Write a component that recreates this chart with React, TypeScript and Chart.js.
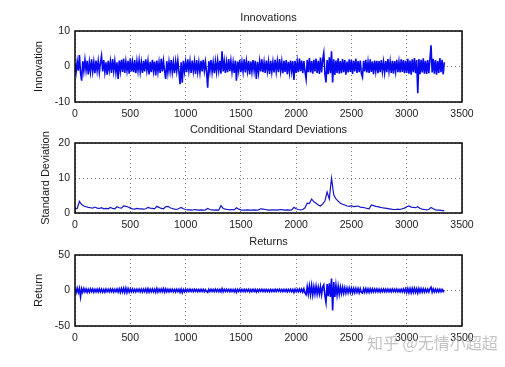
import React, { useEffect, useRef } from 'react';
import { Chart, registerables } from 'chart.js';

Chart.register(...registerables);

// sample spacing of the hand-read (downsampled) series
const STEP = 10;
const STD_STEP = 20;

const innovations = [
  0.8, -1.6, 1.4, -1.2, 3.2, -1.8, -4.0, 1.5, -1.3, 1.9, -1.1, 1.6, -2.2, 1.2, -1.5, 2.0, -1.4, 1.3, -1.9, 1.7,
  -1.2, 1.5, -1.7, 1.1, 3.0, -1.4, 1.8, -1.6, 1.2, -2.3, 1.6, -1.1, 1.4, -1.8, 2.1, -1.3, 1.5, -1.7, 1.2, -3.5,
  1.7, -1.3, 1.9, -1.5, 2.2, -1.8, 1.4, -1.2, 1.6, -2.0, 2.3, -1.4, 1.3, -1.6, 1.8, -1.9, 1.5, -1.2, 1.7, -1.5,
  1.2, -1.8, 1.6, -1.4, 2.0, -1.1, 1.5, -2.2, 1.3, -1.6, 1.9, -1.3, 1.4, -2.5, 1.7, -1.5, 1.2, -1.8, 2.2, -1.4,
  1.6, -1.2, -3.5, 1.5, -1.7, 1.3, -1.4, 1.8, -1.6, 1.2, -1.9, 1.4, -1.3, 1.7, -1.5, -5.0, 1.2, -4.6, 1.6, -1.4,
  1.3, -1.6, 2.0, -1.2, 1.5, -1.8, 1.7, -1.3, 1.4, -2.1, 1.8, -1.5, 1.2, -1.7, 1.6, -1.4, 1.9, -1.2, 1.3, -1.6,
  -6.0, 1.5, -1.3, 1.8, -1.6, 1.2, -1.9, 1.4, -1.5, 1.7, -1.2, 1.6, -2.0, 4.3, -1.4, 1.5, -1.8, 1.3, -1.6, 2.1,
  -1.3, 1.6, -1.5, 1.2, -1.8, 1.7, -4.0, 1.4, -1.2, 1.9, -1.6, 1.3, -1.4, 2.0, -1.7, 1.5, -1.3, 1.6, -2.2, 1.4,
  -1.5, 1.8, -1.2, 1.6, -3.5, 1.3, -1.7, 1.5, -1.4, 2.0, -1.6, 1.2, -1.8, 1.7, -1.3, 1.4, -2.1, 1.6, -1.5, 1.3,
  -1.7, 1.9, -1.4, 1.5, -1.6, 2.1, -1.3, 1.4, -1.9, 1.6, -1.5, 1.8, -2.2, 1.3, -1.6, 1.7, -1.4, 1.5, -3.8, 1.6,
  -1.8, 1.4, -1.6, 2.2, -1.3, 1.7, -1.9, 1.5, -1.4, -3.5, 1.8, -1.6, 2.4, -1.7, 1.5, -2.0, 1.9, -1.4, 2.2, -1.8,
  1.6, -2.1, 2.5, -1.7, 1.9, 3.8, -2.0, -4.5, 1.8, -2.2, 2.6, -1.9, 4.3, -4.5, 2.0, -2.4, 1.7, -1.8, 2.3, -2.0,
  1.5, -1.9, 2.1, -1.6, 1.8, -2.3, 1.4, -1.7, 2.0, -1.5, 1.9, -2.1, 1.6, -1.4, 2.2, -1.8, 1.5, -1.6, 1.7, -2.0,
  -3.0, 1.6, -1.4, 1.9, -1.7, 1.3, -1.8, 2.0, -1.5, 1.4, -2.2, 1.7, -1.3, 1.6, -1.9, 1.5, -1.6, 1.8, -1.4, 1.3,
  -1.7, 1.5, -1.6, 2.1, -1.3, 1.4, -1.8, 1.6, -2.0, 1.5, -1.4, 1.9, -1.6, 1.3, -1.7, 2.0, -1.5, 1.8, -1.9, 1.6,
  -1.8, 2.2, -2.0, 1.7, -2.3, 2.0, -1.6, 2.4, -1.9, 1.8, -7.5, 2.1, -2.2, 1.9, -1.7, 2.3, -2.0, 1.6, -2.1, 1.8,
  -1.9, 2.0, 6.0, -1.7, 2.2, -2.0, 1.8, -2.3, 1.5, -1.8, 2.4, -1.6, 1.9, -2.2, 1.2,
];

const returns = [
  2.5, -3.0, 3.5, -2.8, 3.0, -9.0, 2.6, -2.4, 2.8, -2.0, 2.2, -2.6, 1.8, -2.2, 2.4, -1.9, 2.1, -2.3, 1.7, -2.0,
  1.9, -2.1, 2.3, -1.8, 2.0, -2.2, 1.6, -2.4, 2.1, -1.7, 1.8, -2.0, 2.2, -1.6, 1.9, -2.1, 1.7, -1.8, 2.0, -2.3,
  2.4, -2.6, 2.8, -2.2, 3.2, -2.9, 3.4, -3.0, 2.6, -2.4, 2.0, -1.8, 2.2, -1.9, 1.7, -2.0, 1.8, -1.6, 2.1, -1.9,
  1.8, -2.1, 2.0, -1.7, 2.3, -2.4, 2.6, -2.2, 1.9, -1.8, 2.1, -2.0, 1.7, -2.6, 3.0, -2.1, 1.8, -1.9, 2.2, -1.7,
  2.8, -2.4, 2.2, -1.9, 1.8, -2.0, 1.7, -1.6, 1.9, -1.8, 1.6, -2.0, 1.8, -1.5, 1.7, -2.6, 1.9, -3.0, 1.6, -1.8,
  1.5, -1.7, 1.6, -1.4, 1.8, -1.5, 1.4, -1.6, 1.7, -1.3, 1.5, -1.6, 1.4, -1.5, 1.6, -1.4, 1.5, -1.7, 1.3, -1.5,
  -2.8, 1.6, -1.5, 1.7, -1.4, 1.5, -1.6, 1.8, -1.5, 1.4, -1.7, 1.6, -1.8, 2.6, -1.9, 1.7, -1.5, 1.6, -1.4, 1.5,
  -1.6, 1.7, -1.5, 1.4, -1.8, 1.6, -2.6, 1.5, -1.4, 1.7, -1.6, 1.5, -1.4, 1.6, -1.7, 1.5, -1.3, 1.6, -1.8, 1.4,
  -1.5, 1.6, -1.4, 1.5, -2.2, 1.4, -1.6, 1.5, -1.3, 1.7, -1.5, 1.4, -1.6, 1.5, -1.4, 1.3, -1.7, 1.5, -1.4, 1.3,
  -1.5, 1.6, -1.4, 1.5, -1.3, 1.7, -1.5, 1.4, -1.6, 1.5, -1.4, 1.6, -1.8, 1.5, -1.4, 1.7, -1.6, 1.5, -2.6, 1.8,
  -1.7, 1.6, -1.8, 2.0, -1.6, 1.9, -2.2, 2.4, -3.5, -6.0, 5.5, -5.0, 6.5, -5.8, 7.0, -6.2, 5.5, -4.8, 6.0, -5.2,
  4.5, -4.8, 5.5, -6.0, 5.0, 8.0, -7.0, -17.0, 9.0, -8.0, 10.0, -9.0, 17.0, -28.0, 12.0, -9.0, 7.5, -6.5, 6.0, -5.5,
  4.8, -4.2, 4.5, -3.8, 4.0, -3.6, 3.5, -3.2, 3.6, -3.0, 3.2, -3.4, 2.8, -3.0, 3.1, -2.6, 2.9, -3.0, 2.5, -2.7,
  -3.5, 2.6, -2.4, 2.8, -2.5, 2.2, -2.6, 2.4, -2.1, 2.3, -2.0, 2.2, -1.9, 2.1, -2.0, 1.8, -2.1, 2.0, -1.8, 1.9,
  -1.8, 2.0, -1.7, 1.9, -1.8, 1.7, -1.9, 2.0, -1.6, 1.8, -1.7, 1.9, -1.8, 1.6, -2.0, 1.8, -1.9, 2.2, -2.1, 2.4,
  -2.6, 2.8, -3.0, 2.7, -3.2, 2.9, -2.8, 3.0, -2.6, 2.5, -3.5, 2.8, -2.4, 2.6, -2.3, 2.5, -2.2, 2.1, -2.0, 1.9,
  -2.0, 2.2, 4.5, -2.4, 2.3, -2.1, 2.0, -1.9, 1.8, -2.0, 1.7, -1.8, 1.6, -1.5, 0.8,
];

const stdDeviations = [
  1.2, 1.3, 3.3, 2.4, 2.0, 1.8, 1.6, 1.5, 1.4, 1.7,
  1.4, 1.3, 1.5, 1.2, 1.3, 1.2, 1.6, 1.3, 1.2, 1.8,
  1.5, 1.4, 2.0, 1.9, 1.7, 1.4, 1.2, 1.1, 1.3, 1.2,
  1.2, 1.1, 1.2, 1.6, 1.4, 1.3, 1.2, 1.9, 1.6, 1.3,
  1.2, 1.8, 1.9, 1.5, 1.3, 1.1, 1.0, 1.3, 1.6, 1.2,
  1.0, 0.9, 0.9, 0.8, 1.0, 0.9, 0.8, 0.9, 0.8, 0.9,
  1.3, 1.0, 0.9, 0.8, 0.9, 0.8, 2.1, 1.3, 1.1, 1.0,
  0.9, 1.0, 0.9, 1.5, 1.1, 0.9, 0.8, 0.8, 0.9, 0.8,
  0.8, 0.9, 0.8, 0.9, 1.2, 1.1, 1.0, 0.9, 0.8, 0.9,
  0.9, 0.8, 0.9, 1.0, 0.9, 0.8, 0.9, 0.8, 0.9, 1.6,
  1.2, 1.0, 0.9, 1.0, 1.5, 2.8, 2.7, 4.0, 3.2, 2.8,
  2.3, 2.0, 2.6, 3.4, 6.0, 4.0, 10.0, 5.2, 4.0, 3.4,
  2.8, 2.5, 2.3, 2.0, 1.9, 2.1, 1.8, 1.9, 2.0, 1.7,
  1.6, 1.5, 1.3, 1.2, 2.3, 2.1, 1.9, 1.8, 1.6, 1.5,
  1.4, 1.3, 1.2, 1.1, 1.0, 1.0, 1.1, 1.0, 1.2, 1.4,
  1.8, 2.0, 1.7, 1.6, 1.5, 1.8, 1.3, 1.1, 1.0, 0.9,
  1.0, 1.6, 1.2, 0.9, 0.8, 0.8, 0.7, 0.7,
];

const sampleIndex = innovations.map((_, i) => i * STEP);
const stdIndex = stdDeviations.map((_, i) => i * STD_STEP);

const xTickValues = [0, 500, 1000, 1500, 2000, 2500, 3000, 3500];
const innovationTicks = [-10, 0, 10];
const stdTicks = [0, 10, 20];
const returnTicks = [-50, 0, 50];

const titles = ['Innovations', 'Conditional Standard Deviations', 'Returns'];
const yLabels = ['Innovation', 'Standard Deviation', 'Return'];
const watermark = '知乎 @无情小超超';

const FONT = '"Liberation Sans", Arial, Helvetica, sans-serif';

type PanelSpec = {
  top: number;
  height: number;
  padTop: number;
  xAxisHeight: number;
  title: string;
  titleY: number;
  yLabel: string;
  yLabelX: number;
  xs: number[];
  values: number[];
  yTicks: number[];
  color: string;
  lineWidth: number;
  watermark?: boolean;
};

const panels: PanelSpec[] = [
  { top: 0, height: 122, padTop: 31, xAxisHeight: 20, title: titles[0], titleY: 18, yLabel: yLabels[0], yLabelX: 39, xs: sampleIndex, values: innovations, yTicks: innovationTicks, color: '#0808f0', lineWidth: 1.6 },
  { top: 122, height: 112, padTop: 21, xAxisHeight: 21, title: titles[1], titleY: 8, yLabel: yLabels[1], yLabelX: 46, xs: stdIndex, values: stdDeviations, yTicks: stdTicks, color: '#1515c8', lineWidth: 1.2 },
  { top: 234, height: 133, padTop: 21, xAxisHeight: 41, title: titles[2], titleY: 8, yLabel: yLabels[2], yLabelX: 39, xs: sampleIndex, values: returns, yTicks: returnTicks, color: '#0808f0', lineWidth: 1.6, watermark: true },
];

function Panel({ spec }: { spec: PanelSpec }) {
  const ref = useRef<HTMLCanvasElement | null>(null);
  useEffect(() => {
    const canvas = ref.current;
    if (!canvas) return;
    const yMin = spec.yTicks[0];
    const yMax = spec.yTicks[spec.yTicks.length - 1];
    const decor = {
      id: 'decor',
      afterDatasetsDraw(chart: any) {
        const { ctx, chartArea } = chart;
        const { left, top, right, bottom } = chartArea;
        ctx.save();
        ctx.strokeStyle = '#000';
        ctx.lineWidth = 1.5;
        ctx.strokeRect(left, top, right - left, bottom - top);
        ctx.restore();
      },
      afterDraw(chart: any) {
        const { ctx, chartArea } = chart;
        const { left, top, right, bottom } = chartArea;
        ctx.save();
        ctx.fillStyle = '#1a1a1a';
        ctx.font = `11px ${FONT}`;
        ctx.textAlign = 'center';
        ctx.textBaseline = 'middle';
        ctx.fillText(spec.title, (left + right) / 2, spec.titleY);
        ctx.translate(spec.yLabelX, (top + bottom) / 2);
        ctx.rotate(-Math.PI / 2);
        ctx.fillText(spec.yLabel, 0, 0);
        ctx.restore();
        if (spec.watermark) {
          ctx.save();
          ctx.fillStyle = 'rgba(175,175,175,0.75)';
          ctx.font = '16px "Noto Sans CJK SC", sans-serif';
          ctx.textAlign = 'left';
          ctx.textBaseline = 'middle';
          ctx.fillText(watermark, 367, 109);
          ctx.restore();
        }
      },
    };
    const chart = new Chart(canvas, {
      type: 'line',
      data: {
        datasets: [
          {
            data: spec.values.map((v, i) => ({ x: spec.xs[i], y: v })),
            borderColor: spec.color,
            borderWidth: spec.lineWidth,
            pointRadius: 0,
            fill: false,
            tension: 0,
          },
        ],
      },
      options: {
        animation: false,
        responsive: false,
        layout: { padding: { top: spec.padTop, right: 43, bottom: 0, left: 0 } },
        plugins: { legend: { display: false }, tooltip: { enabled: false }, title: { display: false } },
        scales: {
          x: {
            type: 'linear',
            min: 0,
            max: 3500,
            afterBuildTicks: (axis: any) => {
              axis.ticks = xTickValues.map((v) => ({ value: v }));
            },
            afterFit: (axis: any) => {
              axis.height = spec.xAxisHeight;
            },
            grid: { color: '#7a7a7a', lineWidth: 1, drawTicks: false },
            border: { display: false, dash: [1, 3] },
            ticks: {
              color: '#1a1a1a',
              font: { family: FONT, size: 10.5 },
              padding: 6,
              maxRotation: 0,
              autoSkip: false,
              callback: (v: any) => String(v),
            },
          },
          y: {
            type: 'linear',
            min: yMin,
            max: yMax,
            afterBuildTicks: (axis: any) => {
              axis.ticks = spec.yTicks.map((v) => ({ value: v }));
            },
            afterFit: (axis: any) => {
              axis.width = 75;
            },
            grid: { color: '#7a7a7a', lineWidth: 1, drawTicks: false },
            border: { display: false, dash: [1, 3] },
            ticks: {
              color: '#1a1a1a',
              font: { family: FONT, size: 10.5 },
              padding: 5,
              callback: (v: any) => String(v),
            },
          },
        },
      },
      plugins: [decor],
    });
    return () => chart.destroy();
  }, [spec]);
  return (
    <canvas
      ref={ref}
      width={505}
      height={spec.height}
      style={{ position: 'absolute', left: 0, top: spec.top, width: 505, height: spec.height }}
    />
  );
}

export default function App() {
  return (
    <div style={{ position: 'absolute', left: 0, top: 0, width: 505, height: 367, background: '#fff' }}>
      {panels.map((p, i) => (
        <Panel key={i} spec={p} />
      ))}
    </div>
  );
}
